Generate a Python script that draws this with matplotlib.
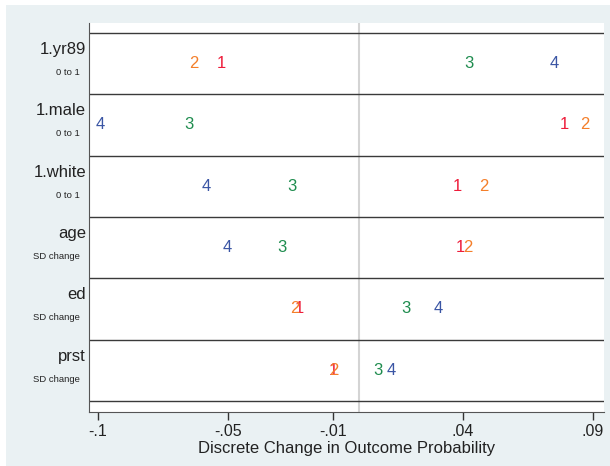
import numpy as np
import matplotlib
matplotlib.use("Agg")
import matplotlib.pyplot as plt
from matplotlib.transforms import blended_transform_factory, offset_copy

plt.rcParams['font.family'] = ['Liberation Sans', 'DejaVu Sans']

# rows, top to bottom
variables = ["1.yr89", "1.male", "1.white", "age", "ed", "prst"]
changes = ["0 to 1", "0 to 1", "0 to 1", "SD change", "SD change", "SD change"]

# discrete change for outcome categories 1..4
cat1 = [-0.0525, 0.0790, 0.0381, 0.0392, -0.0228, -0.0095]
cat2 = [-0.0634, 0.0870, 0.0481, 0.0419, -0.0246, -0.0097]
cat3 = [0.0422, -0.0653, -0.0256, -0.0295, 0.0182, 0.0074]
cat4 = [0.0750, -0.0992, -0.0583, -0.0506, 0.0304, 0.0124]
cat_labels = ["1", "2", "3", "4"]
cat_colors = ["#EE1C3A", "#F47F2A", "#1E8C4E", "#3A55A4"]

xticks = [-0.1, -0.05, -0.01, 0.04, 0.09]
xticklabels = ["-.1", "-.05", "-.01", ".04", ".09"]

W, H = 610, 466
fig = plt.figure(figsize=(W/100, H/100), dpi=100, facecolor="white")
# light outer background
fig.patches.append(plt.Rectangle((6/W, 0), 1 - 6/W, (H-5)/H, transform=fig.transFigure,
                                 facecolor="#EAF1F3", edgecolor="none", zorder=-10))

ax = fig.add_axes([89/W, (H-412)/H, (604-89)/W, (412-23)/H])
ax.set_zorder(5)
ax.set_facecolor("white")

n = len(variables)
rows = np.arange(1, n+1)

ax.axvline(0, color="#D4D4D4", lw=1.5, zorder=1)
for b in np.arange(0.5, n+1, 1.0):
    ax.axhline(b, color="#3A3A3A", lw=1.0, zorder=2)

for vals, lab, col in zip([cat1, cat2, cat3, cat4], cat_labels, cat_colors):
    for r, v in zip(rows, vals):
        ax.text(v, r, lab, color=col, fontsize=12, ha="center", va="center", zorder=3)

ax.set_xlim(-0.1035, 0.0942)
ax.set_ylim(6.68, 0.337)

tr = blended_transform_factory(ax.transAxes, ax.transData)
tr_main = offset_copy(tr, fig=fig, x=-3, y=14, units="dots")
tr_sub = offset_copy(tr, fig=fig, x=-9, y=-9, units="dots")
for r, v, c in zip(rows, variables, changes):
    ax.text(0, r, v, transform=tr_main, ha="right", va="center", fontsize=12, color="#222222")
    ax.text(0, r, c, transform=tr_sub, ha="right", va="center", fontsize=6.8, color="#222222")

ax.set_xticks(xticks)
ax.set_xticklabels(xticklabels, fontsize=11.5, color="#222222")
ax.set_yticks([])
ax.tick_params(axis="x", direction="out", length=6, width=1, color="#333333", pad=3)
ax.set_xlabel("Discrete Change in Outcome Probability", fontsize=12, color="#222222", labelpad=1)

for s in ["top", "right"]:
    ax.spines[s].set_visible(False)
ax.spines["left"].set_color("#555555")
ax.spines["bottom"].set_color("#555555")

fig.savefig("out.png", dpi=100, facecolor=fig.get_facecolor())
